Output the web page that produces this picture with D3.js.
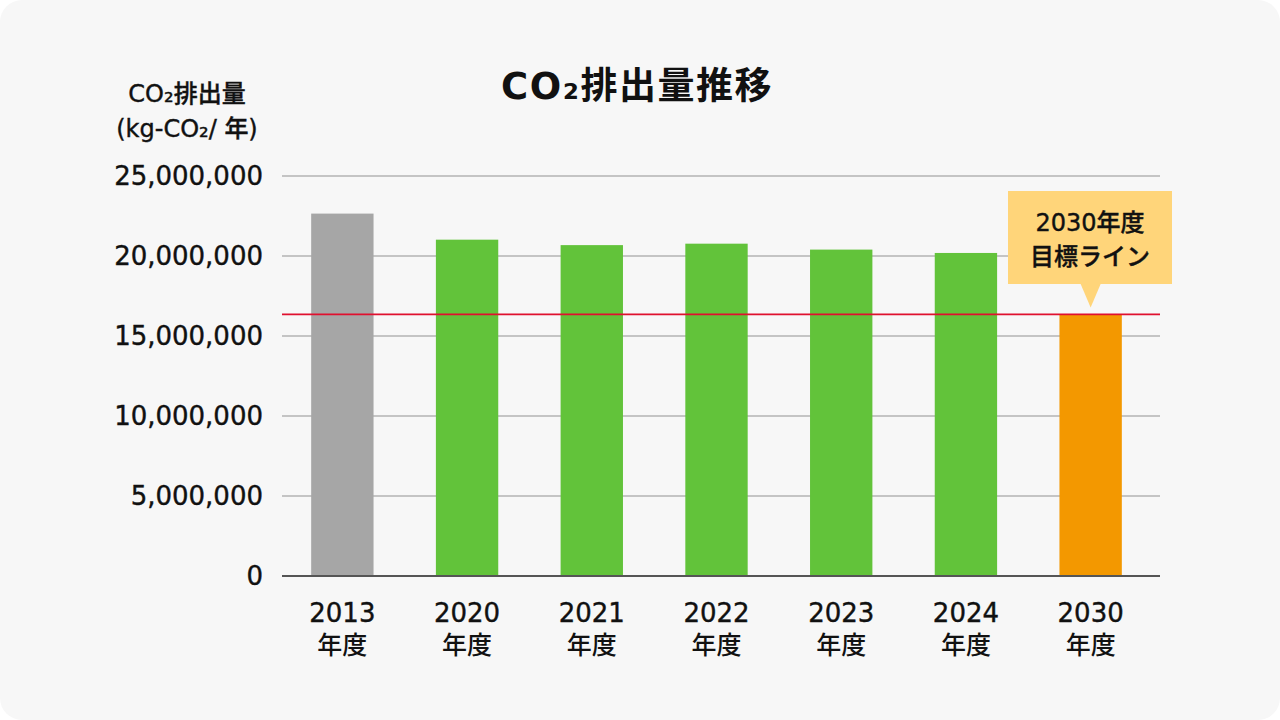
<!DOCTYPE html>
<html><head><meta charset="utf-8">
<script src="https://cdn.jsdelivr.net/npm/d3@7"></script>
<style>
html,body{margin:0;padding:0;background:#ffffff;}
svg{display:block;}
text{font-family:"DejaVu Sans","Noto Sans CJK JP",sans-serif;fill:#111;}
.cjk{font-family:"Noto Sans CJK JP",sans-serif;}
</style></head>
<body>
<svg id="chart" width="1280" height="720"></svg>
<script>
const categories = ["2013","2020","2021","2022","2023","2024","2030"];
const values = [22650000, 21020000, 20680000, 20770000, 20400000, 20190000, 16330000];
const barColors = ["#a6a6a6","#62c33a","#62c33a","#62c33a","#62c33a","#62c33a","#f39800"];
const targetValue = 16350000;
const yTicks = [0, 5000000, 10000000, 15000000, 20000000, 25000000];
const titleText = "CO₂排出量推移";
const yLabelLines = ["CO₂排出量", "(kg-CO₂/ 年)"];
const calloutLines = ["2030年度", "目標ライン"];
const yearSuffix = "年度";

const svg = d3.select("#chart");
svg.append("rect").attr("x",0).attr("y",0).attr("width",1280).attr("height",720)
  .attr("rx",22).attr("fill","#f7f7f7");

const y = d3.scaleLinear().domain([0, 25000000]).range([576, 176]);
const x = d3.scaleBand().domain(categories).range([280, 1153]).paddingInner(0.5).paddingOuter(0.25);

// gridlines
svg.append("g").selectAll("line").data(yTicks.filter(d=>d>0)).join("line")
  .attr("x1",282).attr("x2",1160).attr("y1",d=>y(d)).attr("y2",d=>y(d))
  .attr("stroke","#c4c4c4").attr("stroke-width",2);

// y tick labels
const fmt = d3.format(",");
svg.append("g").selectAll("text").data(yTicks).join("text")
  .attr("x",263).attr("y",d=>y(d)).attr("dy","0.36em")
  .attr("text-anchor","end").attr("font-size",26)
  .attr("stroke","#111").attr("stroke-width",0.4)
  .text(d=>fmt(d));

// bars
svg.append("g").selectAll("rect").data(values).join("rect")
  .attr("x",(d,i)=>x(categories[i])).attr("width",x.bandwidth())
  .attr("y",d=>y(d)).attr("height",d=>y(0)-y(d))
  .attr("fill",(d,i)=>barColors[i]);

// baseline
svg.append("line").attr("x1",282).attr("x2",1160).attr("y1",y(0)).attr("y2",y(0))
  .attr("stroke","#555").attr("stroke-width",2);

// target line
svg.append("line").attr("x1",282).attr("x2",1160).attr("y1",y(targetValue)).attr("y2",y(targetValue))
  .attr("stroke","#e0102f").attr("stroke-width",1.6);

// x labels
const xl = svg.append("g").selectAll("g").data(categories).join("g")
  .attr("transform",d=>`translate(${x(d)+x.bandwidth()/2},0)`);
xl.append("text").attr("y",622).attr("text-anchor","middle").attr("font-size",26)
  .attr("stroke","#111").attr("stroke-width",0.4).text(d=>d);
xl.append("text").attr("class","cjk").attr("y",654).attr("text-anchor","middle").attr("font-size",25)
  .attr("font-weight",500).text(yearSuffix);

// title
svg.append("text").attr("x",637).attr("y",99).attr("text-anchor","middle")
  .attr("font-size",37).attr("font-weight",700).attr("letter-spacing","1.5px").text(titleText);

// y axis label
svg.append("g").selectAll("text").data(yLabelLines).join("text")
  .attr("x",187).attr("y",(d,i)=>102+i*35).attr("text-anchor","middle")
  .attr("font-size",24).attr("font-weight",500)
  .attr("stroke","#111").attr("stroke-width",0.4).text(d=>d);

// callout
const cx = x("2030") + x.bandwidth()/2;
const tipY = y(targetValue) - 7;
const co = svg.append("g");
co.append("rect").attr("x",1008).attr("y",191).attr("width",164).attr("height",93).attr("fill","#ffd57a");
co.append("path").attr("d",`M${cx-10},284 L${cx+10},284 L${cx},${tipY} Z`).attr("fill","#ffd57a");
co.selectAll("text").data(calloutLines).join("text")
  .attr("x",1090).attr("y",(d,i)=>231+i*34).attr("text-anchor","middle")
  .attr("font-size",24).attr("font-weight",500)
  .attr("stroke","#111").attr("stroke-width",0.4).text(d=>d);
</script>
</body></html>
